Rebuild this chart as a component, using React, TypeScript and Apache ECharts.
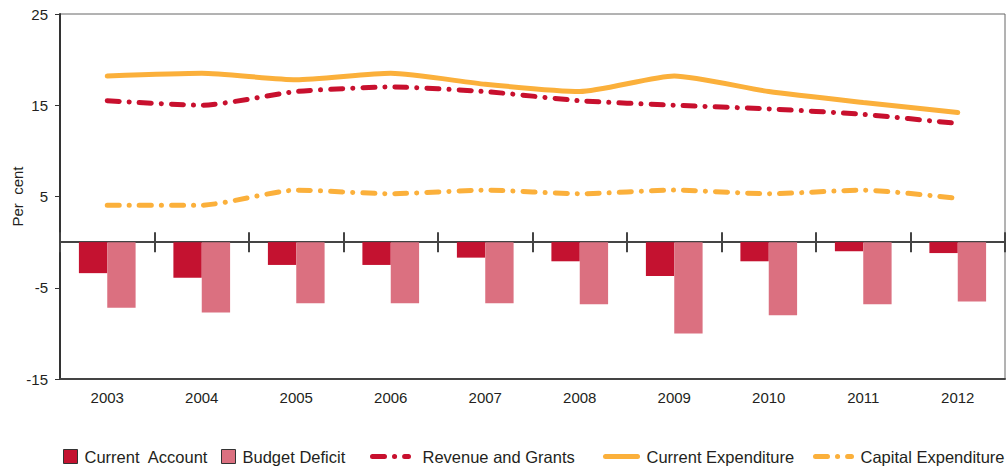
import React, { useEffect, useRef } from "react";
import * as echarts from "echarts";

const years = ["2003", "2004", "2005", "2006", "2007", "2008", "2009", "2010", "2011", "2012"];
const currentAccount = [-3.4, -3.9, -2.5, -2.5, -1.7, -2.1, -3.7, -2.1, -1.0, -1.2];
const budgetDeficit = [-7.2, -7.7, -6.7, -6.7, -6.7, -6.8, -10.0, -8.0, -6.8, -6.5];
const revenueGrants = [15.5, 15.0, 16.5, 17.0, 16.5, 15.5, 15.0, 14.6, 14.0, 13.0];
const currentExpenditure = [18.2, 18.5, 17.8, 18.5, 17.3, 16.5, 18.2, 16.5, 15.3, 14.2];
const capitalExpenditure = [4.05, 4.05, 5.7, 5.3, 5.7, 5.3, 5.7, 5.3, 5.7, 4.8];

const C_CA = "#C41230";
const C_BD = "#DB7080";
const C_REV = "#C8102E";
const C_ORANGE = "#FBB03B";
const TXT = "#231F20";
const FONT = "'Liberation Sans', Arial, sans-serif";
const DASHDOT = [12, 10, 0.1, 10];

export default function App() {
  const ref = useRef<HTMLDivElement>(null);
  useEffect(() => {
    if (!ref.current) return;
    const chart = echarts.init(ref.current, undefined, { renderer: "svg" });
    const legendBase = (name: string, left: number, w: number, pad: number) => ({
      data: [name],
      left,
      top: 448,
      padding: 0,
      orient: "horizontal",
      itemWidth: w,
      itemHeight: 14,
      selectedMode: false,
      textStyle: {
        color: TXT,
        fontSize: 16.5,
        fontFamily: FONT,
        padding: [0, 0, 0, pad],
      },
    });
    const barLegend = (name: string, left: number) => ({
      ...legendBase(name, left, 14, 2),
      icon: "rect",
      itemStyle: { borderColor: "#333", borderWidth: 1 },
    });
    const lineLegend = (name: string, left: number, w: number, pad: number) => ({
      ...legendBase(name, left, w, pad),
      itemStyle: { color: "transparent", borderWidth: 0, opacity: 0 },
      lineStyle: { width: 5, cap: "round" },
    });
    const tickAxis = (position: string) => ({
      type: "category",
      data: years,
      position,
      boundaryGap: true,
      axisLine: {
        show: true,
        onZero: true,
        onZeroAxisIndex: 0,
        lineStyle: { color: "#444", width: 2 },
      },
      axisTick: {
        show: true,
        inside: false,
        length: 10,
        alignWithLabel: false,
        lineStyle: { color: "#444", width: 2 },
      },
      axisLabel: { show: false },
      splitLine: { show: false },
    });
    chart.setOption({
      animation: false,
      backgroundColor: "#ffffff",
      textStyle: { fontFamily: FONT },
      grid: {
        left: 60,
        right: 2,
        top: 14,
        bottom: 87,
        show: true,
        borderColor: "#666",
        borderWidth: 1,
        containLabel: false,
        outerBoundsMode: "none",
      },
      legend: [
        barLegend("Current  Account", 63),
        barLegend("Budget Deficit", 221),
        lineLegend("Revenue and Grants", 370, 36, 9),
        lineLegend("Current Expenditure", 603, 32, 4),
        lineLegend("Capital Expenditure", 813, 36, 4),
      ],
      xAxis: [
        {
          type: "category",
          data: years,
          position: "bottom",
          boundaryGap: true,
          axisLine: { show: true, onZero: false, lineStyle: { color: "#444", width: 2 } },
          axisTick: { show: false },
          axisLabel: { color: TXT, fontSize: 15, fontFamily: FONT, margin: 11 },
          splitLine: { show: false },
        },
        tickAxis("top"),
        tickAxis("bottom"),
      ],
      yAxis: {
        type: "value",
        min: -15,
        max: 25,
        interval: 10,
        name: "Per  cent",
        nameLocation: "middle",
        nameGap: 35,
        nameMoveOverlap: false,
        nameTextStyle: { color: TXT, fontSize: 15, fontFamily: FONT },
        axisLine: { show: true, lineStyle: { color: "#333", width: 2 } },
        axisTick: { show: true, length: 5, lineStyle: { color: "#333", width: 1 } },
        axisLabel: { color: TXT, fontSize: 15, fontFamily: FONT, margin: 12 },
        splitLine: { show: false },
      },
      series: [
        {
          name: "Current  Account",
          type: "bar",
          data: currentAccount,
          itemStyle: { color: C_CA },
          barGap: "0%",
          barCategoryGap: "40%",
        },
        {
          name: "Budget Deficit",
          type: "bar",
          data: budgetDeficit,
          itemStyle: { color: C_BD },
          barGap: "0%",
          barCategoryGap: "40%",
        },
        {
          name: "Revenue and Grants",
          type: "line",
          data: revenueGrants,
          symbol: "none",
          smooth: 0.2,
          itemStyle: { color: C_REV },
          lineStyle: { color: C_REV, width: 5, type: DASHDOT, cap: "round" },
        },
        {
          name: "Current Expenditure",
          type: "line",
          data: currentExpenditure,
          symbol: "none",
          smooth: 0.2,
          itemStyle: { color: C_ORANGE },
          lineStyle: { color: C_ORANGE, width: 5, cap: "round" },
        },
        {
          name: "Capital Expenditure",
          type: "line",
          data: capitalExpenditure,
          symbol: "none",
          smooth: 0.2,
          itemStyle: { color: C_ORANGE },
          lineStyle: { color: C_ORANGE, width: 5, type: DASHDOT, cap: "round" },
        },
      ],
    });
    return () => chart.dispose();
  }, []);
  return (
    <div
      ref={ref}
      style={{ position: "fixed", left: 0, top: 0, width: 1007, height: 466 }}
    />
  );
}
